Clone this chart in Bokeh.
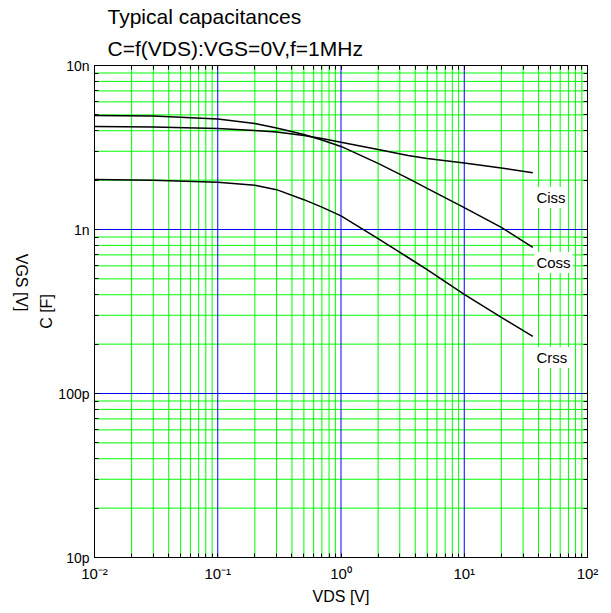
import math
from bokeh.plotting import figure
from bokeh.models import FixedTicker, LogAxis, Title, CustomJSTickFormatter, Label, Span
from bokeh.embed import file_html
from bokeh.resources import INLINE

# ---- data ----
vds = [0.01, 0.03, 0.1, 0.2, 0.3, 0.5, 0.7, 1, 2, 3.5, 5, 10, 20, 36]
ciss = [4.25e-9, 4.22e-9, 4.13e-9, 4.02e-9, 3.93e-9, 3.74e-9, 3.59e-9, 3.40e-9,
        3.07e-9, 2.83e-9, 2.71e-9, 2.54e-9, 2.37e-9, 2.22e-9]
coss = [4.96e-9, 4.92e-9, 4.72e-9, 4.43e-9, 4.16e-9, 3.80e-9, 3.51e-9, 3.21e-9,
        2.53e-9, 2.05e-9, 1.78e-9, 1.36e-9, 1.03e-9, 7.77e-10]
crss = [2.02e-9, 2.00e-9, 1.94e-9, 1.86e-9, 1.75e-9, 1.52e-9, 1.37e-9, 1.21e-9,
        8.81e-10, 6.75e-10, 5.70e-10, 4.02e-10, 2.91e-10, 2.23e-10]
curve_names = ["Ciss", "Coss", "Crss"]

x_exps = [-2, -1, 0, 1, 2]
x_labels = ["10\u207b\u00b2", "10\u207b\u00b9", "10\u2070", "10\u00b9", "10\u00b2"]
y_exps = [-11, -10, -9, -8]
y_labels = ["10p", "100p", "1n", "10n"]

title_lines = ["Typical capacitances", "C=f(VDS):VGS=0V,f=1MHz"]
x_title = "VDS [V]"
y_title = "C [F]"
y_title2 = "VGS [V]"

FONT = "Liberation Sans"

x_major = [10.0 ** e for e in x_exps]
x_minor = [k * 10.0 ** e for e in x_exps[:-1] for k in range(2, 10)]
y_major = [10.0 ** e for e in y_exps]
y_minor = [k * 10.0 ** e for e in y_exps[:-1] for k in range(2, 10)]

p = figure(width=605, height=610, x_axis_type="log", y_axis_type="log",
           x_range=(x_major[0], x_major[-1]), y_range=(y_major[0], y_major[-1]),
           output_backend="svg", toolbar_location=None,
           min_border_left=94, min_border_right=18, min_border_top=65, min_border_bottom=53)
p.background_fill_color = "white"
p.border_fill_color = "white"
p.outline_line_color = "black"
p.outline_line_width = 1
p.xgrid.visible = False
p.ygrid.visible = False

bottom_axis = p.below[0]
left_axis = p.left[0]

fmt_code = ("const e = Math.round(Math.log10(tick)); const i = exps.indexOf(e); "
            "return i >= 0 ? labels[i] : '';")
bottom_axis.ticker = FixedTicker(ticks=x_major, minor_ticks=x_minor)
left_axis.ticker = FixedTicker(ticks=y_major, minor_ticks=y_minor)
bottom_axis.formatter = CustomJSTickFormatter(args=dict(exps=x_exps, labels=x_labels), code=fmt_code)
left_axis.formatter = CustomJSTickFormatter(args=dict(exps=y_exps, labels=y_labels), code=fmt_code)

top_axis = LogAxis(ticker=FixedTicker(ticks=x_major, minor_ticks=x_minor))
right_axis = LogAxis(ticker=FixedTicker(ticks=y_major, minor_ticks=y_minor))
p.add_layout(top_axis, "above")
p.add_layout(right_axis, "right")

for ax in [bottom_axis, left_axis, top_axis, right_axis]:
    ax.major_tick_in = 4
    ax.major_tick_out = 0
    ax.minor_tick_in = 4
    ax.minor_tick_out = 0
    ax.axis_line_color = "black"
    ax.major_tick_line_color = "black"
    ax.minor_tick_line_color = "black"
    ax.major_label_text_font = FONT
    ax.major_label_text_color = "black"

for ax in [top_axis, right_axis]:
    ax.major_label_text_font_size = "0px"
    ax.major_label_text_color = None
    ax.major_label_standoff = 0

bottom_axis.major_label_text_font_size = "15px"
bottom_axis.major_label_standoff = 7
bottom_axis.axis_label = x_title
bottom_axis.axis_label_text_font = FONT
bottom_axis.axis_label_text_font_size = "16px"
bottom_axis.axis_label_text_font_style = "normal"
bottom_axis.axis_label_text_color = "black"
bottom_axis.axis_label_standoff = 3

left_axis.major_label_text_font_size = "14px"
left_axis.major_label_standoff = 5
left_axis.axis_label = y_title
left_axis.axis_label_text_font = FONT
left_axis.axis_label_text_font_size = "16px"
left_axis.axis_label_text_font_style = "normal"
left_axis.axis_label_text_color = "black"
left_axis.axis_label_standoff = 0

# second left title (reads top-to-bottom in the reference)
vgs_axis = LogAxis(ticker=FixedTicker(ticks=[]), axis_line_color=None,
                   major_label_text_font_size="0px", major_tick_in=0, major_tick_out=0,
                   minor_tick_in=0, minor_tick_out=0, axis_label=y_title2,
                   axis_label_text_font=FONT, axis_label_text_font_size="16px",
                   axis_label_text_font_style="normal", axis_label_text_color="black",
                   axis_label_standoff=14)
if "axis_label_orientation" in vgs_axis.properties():
    vgs_axis.axis_label_orientation = -math.pi / 2
p.add_layout(vgs_axis, "left")

# grid lines at the tick values (decades blue, 2..9 green)
for v in x_minor:
    p.add_layout(Span(location=v, dimension="height", line_color="#00ff00",
                      line_width=1, level="underlay"))
for v in y_minor:
    p.add_layout(Span(location=v, dimension="width", line_color="#00ff00",
                      line_width=1, level="underlay"))
for v in x_major:
    p.add_layout(Span(location=v, dimension="height", line_color="#0000ff",
                      line_width=1, level="underlay"))
for v in y_major:
    p.add_layout(Span(location=v, dimension="width", line_color="#0000ff",
                      line_width=1, level="underlay"))

# curves
for ys in [ciss, coss, crss]:
    p.line(vds, ys, line_color="black", line_width=1.5)


def px2x(px):
    return 10 ** (-2 + (px - 94) / 123.0)


def py2y(py):
    return 10 ** (-8 - (py - 65) / 164.0)


# curve labels
for name, py in zip(curve_names, [197, 262, 357]):
    p.add_layout(Label(x=px2x(533), y=py2y(py), text=name, text_font=FONT,
                       text_font_size="15px", text_align="left", text_baseline="middle",
                       background_fill_color="white", padding=2, text_color="black"))

# title lines (added inner first)
p.add_layout(Title(text=title_lines[1], align="left", offset=13, text_font=FONT,
                   text_font_size="21px", text_font_style="normal",
                   text_color="black", standoff=12), "above")
p.add_layout(Title(text=title_lines[0], align="left", offset=13, text_font=FONT,
                   text_font_size="21px", text_font_style="normal",
                   text_color="black", standoff=2), "above")

open("out.html", "w").write(file_html(p, INLINE))
